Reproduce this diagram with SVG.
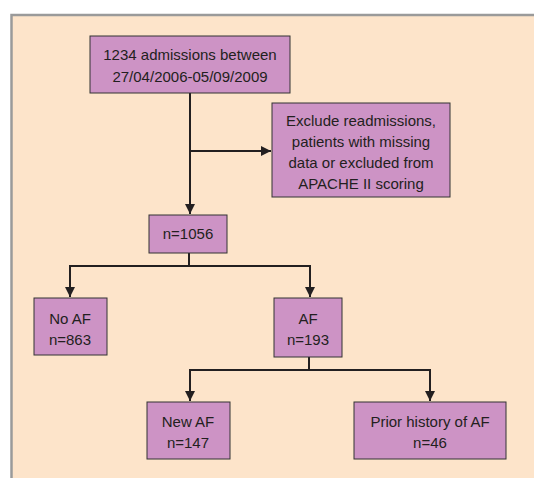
<svg xmlns="http://www.w3.org/2000/svg" width="534" height="478" viewBox="0 0 534 478">
<defs>
<style>
.box{fill:#CD93C5;stroke:#333;stroke-width:1}
.t{font-family:"Liberation Sans",Arial,sans-serif;font-size:15px;fill:#231F20;text-anchor:middle}
.c{fill:none;stroke:#231F20;stroke-width:2}
</style>
<marker id="ah" viewBox="0 0 10 10" refX="10" refY="5" markerWidth="5" markerHeight="5" orient="auto" markerUnits="strokeWidth">
<path d="M0,0 L10,5 L0,10 Z" fill="#231F20"/>
</marker>
</defs>
<rect x="0" y="0" width="534" height="478" fill="#fff"/>
<rect x="11.5" y="15" width="540" height="480" fill="#FDE4CA" stroke="#9A9A9A" stroke-width="2.5"/>
<g id="connectors">
<path class="c" d="M190,93 V214" marker-end="url(#ah)"/>
<path class="c" d="M190,151 H271" marker-end="url(#ah)"/>
<path class="c" d="M189,253 V266 M70,266 H310"/>
<path class="c" d="M70,265 V297" marker-end="url(#ah)"/>
<path class="c" d="M310,265 V297" marker-end="url(#ah)"/>
<path class="c" d="M309,357 V370 M190,370 H430"/>
<path class="c" d="M190,369 V401" marker-end="url(#ah)"/>
<path class="c" d="M430,369 V401" marker-end="url(#ah)"/>
</g>
<g id="n1">
<rect class="box" x="90" y="36" width="200" height="57"/>
<text class="t" x="190" y="60">1234 admissions between</text>
<text class="t" x="190" y="82">27/04/2006-05/09/2009</text>
</g>
<g id="n2">
<rect class="box" x="272" y="103" width="178" height="94"/>
<text class="t" x="361" y="126">Exclude readmissions,</text>
<text class="t" x="361" y="147">patients with missing</text>
<text class="t" x="361" y="168">data or excluded from</text>
<text class="t" x="361" y="189">APACHE II scoring</text>
</g>
<g id="n3">
<rect class="box" x="149" y="215" width="78" height="38"/>
<text class="t" x="188" y="239">n=1056</text>
</g>
<g id="n4">
<rect class="box" x="34" y="298" width="73" height="57"/>
<text class="t" x="70" y="324">No AF</text>
<text class="t" x="70" y="345">n=863</text>
</g>
<g id="n5">
<rect class="box" x="274" y="298" width="68" height="59"/>
<text class="t" x="308" y="324">AF</text>
<text class="t" x="308" y="345">n=193</text>
</g>
<g id="n6">
<rect class="box" x="147" y="402" width="83" height="57"/>
<text class="t" x="188" y="427">New AF</text>
<text class="t" x="188" y="448">n=147</text>
</g>
<g id="n7">
<rect class="box" x="354" y="402" width="152" height="57"/>
<text class="t" x="430" y="427">Prior history of AF</text>
<text class="t" x="430" y="448">n=46</text>
</g>
</svg>
